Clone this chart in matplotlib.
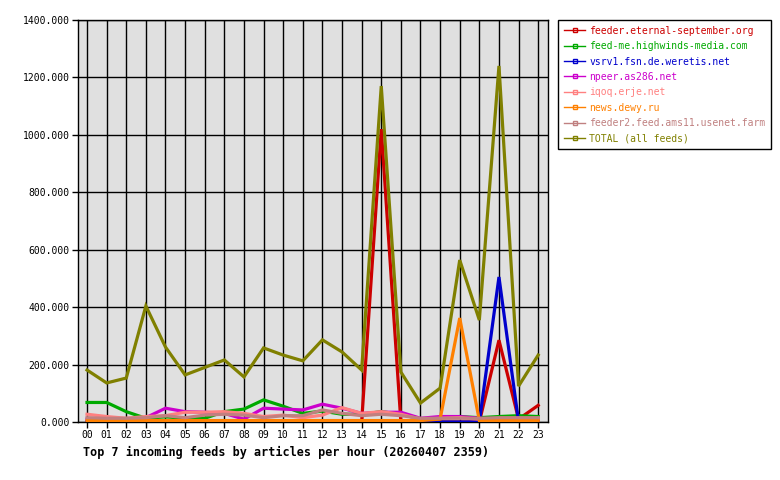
import matplotlib
matplotlib.use('Agg')
import matplotlib.pyplot as plt
from matplotlib.lines import Line2D

# Hourly data
hours = ['%02d' % h for h in range(24)]

feeder_es = [0, 0, 0, 0, 0, 0, 0, 0, 0, 0, 0, 0, 0, 0, 0, 1020, 0, 0, 0, 0, 0, 285, 10, 58]
highwinds = [68, 68, 36, 13, 18, 13, 13, 36, 45, 77, 55, 30, 38, 27, 27, 36, 27, 10, 15, 19, 15, 19, 22, 19]
weretis = [0, 0, 0, 0, 0, 0, 0, 0, 0, 0, 0, 0, 0, 0, 0, 0, 0, 0, 0, 0, 0, 505, 0, 0]
as286 = [10, 10, 10, 15, 48, 36, 34, 30, 10, 48, 45, 42, 62, 48, 30, 34, 34, 13, 19, 19, 13, 10, 10, 10]
erje = [27, 19, 13, 19, 22, 34, 34, 36, 30, 19, 24, 15, 24, 50, 30, 36, 27, 10, 13, 15, 10, 13, 13, 13]
dewy = [5, 5, 5, 5, 5, 5, 5, 5, 5, 5, 5, 5, 5, 5, 5, 5, 5, 5, 10, 362, 5, 5, 5, 5]
ams11 = [15, 13, 13, 15, 22, 15, 24, 27, 24, 15, 22, 22, 42, 30, 22, 27, 22, 13, 13, 13, 13, 15, 15, 15]
total = [181, 136, 153, 404, 261, 164, 190, 216, 157, 258, 233, 213, 286, 244, 181, 1170, 174, 66, 118, 564, 355, 1240, 125, 233]

names = ['feeder.eternal-september.org', 'feed-me.highwinds-media.com',
         'vsrv1.fsn.de.weretis.net', 'npeer.as286.net', 'iqoq.erje.net',
         'news.dewy.ru', 'feeder2.feed.ams11.usenet.farm', 'TOTAL (all feeds)']
series = [feeder_es, highwinds, weretis, as286, erje, dewy, ams11, total]
colors = ['#cc0000', '#00aa00', '#0000cc', '#cc00cc', '#ff8080', '#ff8000', '#c08080', '#808000']

mono = 'DejaVu Sans Mono'

fig = plt.figure(figsize=(7.8, 4.8), dpi=100)
ax = fig.add_axes([78 / 780, 58 / 480, 470 / 780, 402 / 480])
ax.set_facecolor('#e0e0e0')

x = list(range(24))
for vals, c in zip(series, colors):
    ax.plot(x, vals, color=c, linewidth=2.3, solid_joinstyle='miter', zorder=3)

ax.set_xlim(-0.46, 23.5)
ax.set_ylim(0, 1400)
ax.set_xticks(x)
ax.set_xticklabels(hours, fontfamily=mono, fontsize=7)
ax.set_yticks(range(0, 1401, 200))
ax.set_yticklabels(['%.3f' % v for v in range(0, 1401, 200)], fontfamily=mono, fontsize=7)
ax.grid(True, color='black', linewidth=1, zorder=1)
ax.set_axisbelow(True)
ax.tick_params(direction='out', length=4, width=1, colors='black', pad=2)
for s in ax.spines.values():
    s.set_color('black')
    s.set_linewidth(1)

fig.text(83 / 780, 1 - 452 / 480, 'Top 7 incoming feeds by articles per hour (20260407 2359)',
         fontfamily=mono, fontsize=8.5, fontweight='bold', va='center', ha='left')

handles = [Line2D([0], [0], color=c, linewidth=1, marker='s', markersize=3,
                  markerfacecolor='none', markeredgecolor=c) for c in colors]
leg = fig.legend(handles, names, loc='upper left', bbox_to_anchor=(558 / 780, 1 - 20 / 480),
                 prop={'family': mono, 'size': 7}, frameon=True, fancybox=False,
                 edgecolor='black', framealpha=1, handlelength=2.2, handletextpad=0.4,
                 labelspacing=0.55, borderpad=0.6, borderaxespad=0)
leg.get_frame().set_linewidth(1)
for txt, c in zip(leg.get_texts(), colors):
    txt.set_color(c)

fig.savefig('out.png', dpi=100)
